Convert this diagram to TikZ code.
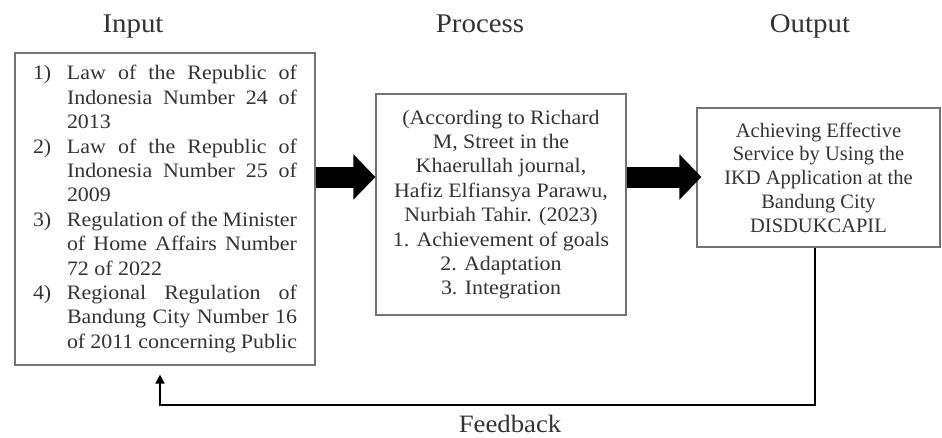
\documentclass[tikz,border=0pt]{standalone}
\usepackage{fontspec}
\setmainfont{Liberation Serif}
\newfontfamily\cam[FakeStretch=1.07]{Liberation Serif}
\usetikzlibrary{arrows.meta}
\begin{document}
\begin{tikzpicture}[x=1pt,y=-1pt,
  box/.style={draw=black!55, line width=1.1pt, inner sep=0pt, align=center},
  head/.style={font=\cam\fontsize{27}{30}\selectfont, text=black!80, anchor=base, inner sep=0pt},
  body/.style={font=\cam\fontsize{20.5}{24.4}\selectfont, text=black!80},
  fat/.style={line width=21pt, -{Triangle[length=22pt,width=44pt]}},
  fb/.style={line width=1.4pt, -{Triangle[length=9pt,width=9pt]}, shorten >=9pt}]
\useasboundingbox (0,0) rectangle (942,437);
% headings
\node[head] (hin) at (133,32) {Input};
\node[head] (hpr) at (480,32) {Process};
\node[head] (hout) at (810,32) {Output};
% input box
\node[box, body, align=left, minimum width=300pt, minimum height=312pt] (in) at (165,209) {%
\makebox[34pt][l]{1)}\makebox[230pt][s]{Law of the Republic of}\\
\hspace*{34pt}\makebox[230pt][s]{Indonesia Number 24 of}\\
\hspace*{34pt}\makebox[230pt][l]{2013}\\
\makebox[34pt][l]{2)}\makebox[230pt][s]{Law of the Republic of}\\
\hspace*{34pt}\makebox[230pt][s]{Indonesia Number 25 of}\\
\hspace*{34pt}\makebox[230pt][l]{2009}\\
\makebox[34pt][l]{3)}\makebox[230pt][s]{Regulation of the Minister}\\
\hspace*{34pt}\makebox[230pt][s]{of Home Affairs Number}\\
\hspace*{34pt}\makebox[230pt][l]{72 of 2022}\\
\makebox[34pt][l]{4)}\makebox[230pt][s]{Regional Regulation of}\\
\hspace*{34pt}\makebox[230pt][s]{Bandung City Number 16}\\
\hspace*{34pt}\makebox[230pt][s]{of 2011 concerning Public}};
% process box
\node[box, body, minimum width=250pt, minimum height=221pt] (pr) at (501,204.5) {%
(According to Richard\\ M, Street in the\\ Khaerullah journal,\\ Hafiz Elfiansya Parawu,\\ Nurbiah Tahir. (2023)\\ 1. Achievement of goals\\ 2. Adaptation\\ 3. Integration};
% output box
\node[box, font=\fontsize{20.5}{23.8}\selectfont, text=black!80, minimum width=243pt, minimum height=139pt] (out) at (818.5,177.5) {%
Achieving Effective\\ Service by Using the\\ IKD Application at the\\ Bandung City\\ DISDUKCAPIL};
% feedback label
\node[head, font=\cam\fontsize{25}{28}\selectfont] (fbl) at (510,432) {Feedback};
% arrows
\coordinate (ay) at (0,177);
\draw[fat] (in.east |- ay) -- (pr.west |- ay);
\draw[fat] (pr.east |- ay) -- ([xshift=5pt]out.west |- ay);
\coordinate (fbr) at ([xshift=-3.5pt]out.south);
\coordinate (fbc) at (0,405);
\draw[fb] (fbr) -- (fbr |- fbc) -- ([xshift=-5pt]in.south |- fbc) -- ([xshift=-5pt]in.south);
\end{tikzpicture}
\end{document}
